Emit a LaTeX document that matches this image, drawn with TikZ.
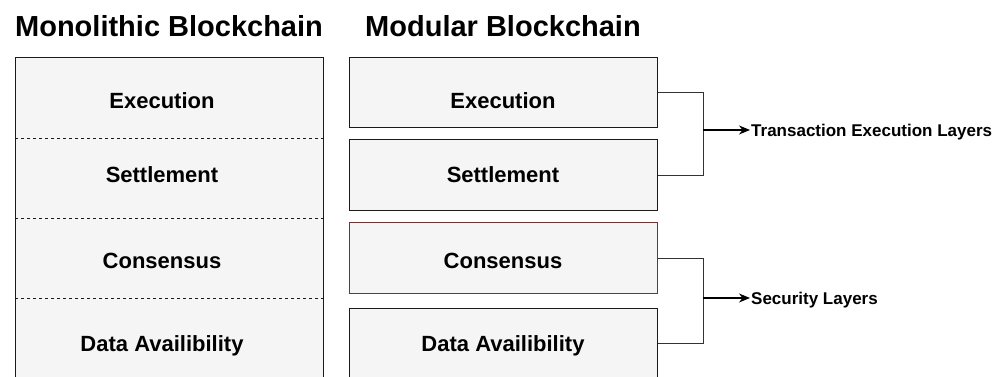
\documentclass[tikz,border=0pt]{standalone}
\usepackage{fontspec}
\setmainfont{Liberation Sans}
\usetikzlibrary{arrows.meta}
\definecolor{layerfill}{HTML}{F5F5F5}
\definecolor{layerline}{HTML}{1A1A1A}
\definecolor{redline}{HTML}{6E3434}
\definecolor{linkline}{HTML}{333333}
\tikzset{
  layerbox/.style={draw=layerline, fill=layerfill, line width=1pt, minimum width=308pt, minimum height=70pt, inner sep=0pt},
  layertxt/.style={font=\bfseries\fontsize{22}{22}\selectfont, anchor=base, inner sep=0pt},
  titletxt/.style={font=\bfseries\fontsize{29}{29}\selectfont, anchor=base, inner sep=0pt},
  sidetxt/.style={font=\bfseries\fontsize{17}{17}\selectfont, anchor=base west, inner sep=0pt},
  link/.style={draw=linkline, line width=1pt},
  tip/.style={-{Stealth[length=11pt,width=9pt,inset=3.5pt]}, draw=black, line width=1.2pt},
  sep/.style={draw=layerline, line width=0.8pt, dash pattern=on 3pt off 3pt},
}
\begin{document}
\begin{tikzpicture}[x=1pt,y=-1pt]
\useasboundingbox (0,0) rectangle (1005,377);
\begin{scope}
\clip (0,0) rectangle (1005,377);
% monolithic stack: one tall box split by dashed lines
\fill[layerfill] (15,58) rectangle (323,400);
\draw[layerline, line width=1pt] (15,400) -- (15,58) -- (323,58) -- (323,400);
\draw[sep] (15,138) -- (323,138);
\draw[sep] (15,218) -- (323,218);
\draw[sep] (15,298) -- (323,298);
% modular stack: separate boxes
\node[layerbox] (exe) at (503,93) {};
\node[layerbox, minimum height=71pt] (set) at (503,175.5) {};
\node[layerbox, draw=redline] (con) at (503,258) {};
\node[layerbox] (da) at (503,343) {};
\end{scope}
% titles
\node[titletxt] (t1) at (169,37) {Monolithic Blockchain};
\node[titletxt] (t2) at (503,37) {Modular Blockchain};
% monolithic labels
\node[layertxt] (m1) at (162,109) {Execution};
\node[layertxt] (m2) at (162,183) {Settlement};
\node[layertxt] (m3) at (162,268) {Consensus};
\node[layertxt] (m4) at (162,351) {Data Availibility};
% modular labels
\node[layertxt] (l1) at (503,109) {Execution};
\node[layertxt] (l2) at (503,183) {Settlement};
\node[layertxt] (l3) at (503,268) {Consensus};
\node[layertxt] (l4) at (503,351) {Data Availibility};
% grouping brackets
\coordinate (b1) at (703,130);
\coordinate (b2) at (703,298);
\node[sidetxt] (g1) at (751,136.5) {Transaction Execution Layers};
\node[sidetxt] (g2) at (751,304) {Security Layers};
\draw[link] (exe.east) -- (exe.east -| b1) -- (set.east -| b1) -- (set.east);
\draw[link] (con.east) -- (con.east -| b2) -- (da.east -| b2) -- (da.east);
\draw[tip] (b1) -- ([xshift=-1pt]b1 -| g1.west);
\draw[tip] (b2) -- ([xshift=-1pt]b2 -| g2.west);
\end{tikzpicture}
\end{document}
